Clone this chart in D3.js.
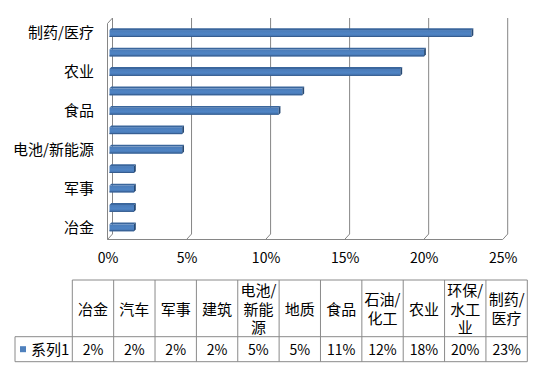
<!DOCTYPE html>
<html lang="zh">
<head>
<meta charset="utf-8">
<title>3D bar + table</title>
<script src="https://d3js.org/d3.v7.min.js"></script>
<style>
  body { margin: 0; background: #fff; }
  text { font-family: "Noto Sans CJK SC", "Noto Sans", sans-serif; fill: #000; }
</style>
</head>
<body>
<script>
// data, bottom to top as in the table
var categories = ["冶金", "汽车", "军事", "建筑", "电池/新能源", "地质", "食品", "石油/化工", "农业", "环保/水工业", "制药/医疗"];
var values = [0.0155, 0.0155, 0.0155, 0.0155, 0.046, 0.046, 0.107, 0.122, 0.184, 0.199, 0.229];
var tickValues = [0, 0.05, 0.10, 0.15, 0.20, 0.25];
var seriesName = "系列1";

var width = 543, height = 375;
var svg = d3.select("body").append("svg")
    .attr("width", width).attr("height", height);

// 3d depth offset, back wall -> front edge
var dx = -5, dy = 5.5;
var wallTop = 18, wallBottom = 234;

var xBack = d3.scaleLinear().domain([0, 0.25]).range([112.5, 507.7]);
var xFront = xBack.copy().range([112.5 + dx, 507.7 + dx]);
var xBar = xBack.copy().range([112.5 + dx * 0.6, 507.7 + dx * 0.6]);

var y = d3.scaleBand().domain(categories.slice().reverse())
    .range([22.8, 236.7]).paddingInner(0.55).paddingOuter(0.28);

var grid = svg.append("g").attr("stroke", "#868686").attr("fill", "none");
tickValues.forEach(function(v) {
  grid.append("path")
    .attr("d", "M" + xBack(v) + "," + wallTop + "V" + wallBottom +
               "L" + xFront(v) + "," + (wallBottom + dy));
});
// left wall front edge + floor edge
grid.append("path")
  .attr("d", "M" + xBack(0) + "," + wallTop + "L" + xFront(0) + "," + (wallTop + dy) +
             "V" + (wallBottom + dy) + "H" + xFront(0.25));

// bars
var defs = svg.append("defs");
var grad = defs.append("linearGradient").attr("id", "barFace")
    .attr("x1", 0).attr("y1", 0).attr("x2", 0).attr("y2", 1);
grad.append("stop").attr("offset", "0%").attr("stop-color", "#4a7bb8");
grad.append("stop").attr("offset", "55%").attr("stop-color", "#4f84c4");
grad.append("stop").attr("offset", "100%").attr("stop-color", "#4372ad");

var t = 1.8;
var bars = svg.append("g").selectAll("g").data(categories).join("g");
bars.append("path") // top face
  .attr("fill", "#3a669c")
  .attr("d", function(c, i) {
    var y0 = y(c), x0 = xBar(0), x1 = xBar(values[i]);
    return "M" + x0 + "," + (y0 + t) + "L" + x1 + "," + (y0 + t) +
           "L" + (x1 + t) + "," + y0 + "L" + (x0 + t) + "," + y0 + "Z";
  });
bars.append("rect") // front face
  .attr("x", xBar(0))
  .attr("y", function(c) { return y(c) + t; })
  .attr("width", function(c, i) { return xBar(values[i]) - xBar(0); })
  .attr("height", y.bandwidth() - t)
  .attr("fill", "url(#barFace)");
bars.append("path") // bottom edge
  .attr("stroke", "#365d8f").attr("fill", "none")
  .attr("d", function(c, i) {
    var yb = y(c) + y.bandwidth() - 0.5;
    return "M" + xBar(0) + "," + yb + "H" + xBar(values[i]);
  });
bars.append("path") // end cap
  .attr("fill", "#274a75")
  .attr("d", function(c, i) {
    var y0 = y(c), x1 = xBar(values[i]), h = y.bandwidth();
    return "M" + x1 + "," + (y0 + t) + "L" + (x1 + t) + "," + y0 +
           "L" + (x1 + t) + "," + (y0 + h - t) + "L" + x1 + "," + (y0 + h) + "Z";
  });

// category axis, every second label
var yAxis = d3.axisLeft(y)
    .tickValues(categories.filter(function(c, i) { return i % 2 === 0; }))
    .tickSize(0).tickPadding(0);
svg.append("g").attr("transform", "translate(94,1)").call(yAxis)
  .call(function(g) { g.select(".domain").remove(); })
  .selectAll("text").style("font-size", "15px")
  .style("font-family", '"Noto Sans CJK SC", sans-serif');

// value axis under the floor
var xAxis = d3.axisBottom(xFront).tickValues(tickValues)
    .tickFormat(d3.format(".0%")).tickSize(0).tickPadding(0);
svg.append("g").attr("transform", "translate(0,253)").call(xAxis)
  .call(function(g) { g.select(".domain").remove(); })
  .selectAll("text").style("font-size", "14px")
  .style("font-family", '"Noto Sans CJK SC", sans-serif');

// data table
var col = d3.scaleBand().domain(categories).range([72.3, 527.3]);
var tTop = 280, tMid = 336.7, tBot = 361.7, tLeft = 15;
var table = svg.append("g");
var lines = table.append("g").attr("stroke", "#8a8a8a").attr("fill", "none");
lines.append("path").attr("d", "M" + col.range()[0] + "," + tTop + "H" + col.range()[1]);
lines.append("path").attr("d", "M" + tLeft + "," + tMid + "H" + col.range()[1]);
lines.append("path").attr("d", "M" + tLeft + "," + tBot + "H" + col.range()[1]);
lines.append("path").attr("d", "M" + tLeft + "," + tMid + "V" + tBot);
categories.forEach(function(c) {
  lines.append("path").attr("d", "M" + col(c) + "," + tTop + "V" + tBot);
});
lines.append("path").attr("d", "M" + col.range()[1] + "," + tTop + "V" + tBot);

// header cells, wrapped to the column width
var lineH = 18.5, maxW = 37;
categories.forEach(function(c) {
  var probe = table.append("text").style("font-size", "15px");
  var rows = [], cur = "";
  Array.from(c).forEach(function(ch) {
    probe.text(cur + ch);
    if (cur && probe.node().getComputedTextLength() > maxW) { rows.push(cur); cur = ch; }
    else cur += ch;
  });
  rows.push(cur);
  probe.remove();
  var cy = (tTop + tMid) / 2 + 1;
  var txt = table.append("text").style("font-size", "15px")
    .attr("text-anchor", "middle");
  rows.forEach(function(r, k) {
    txt.append("tspan")
      .attr("x", col(c) + col.bandwidth() / 2)
      .attr("y", cy + (k - (rows.length - 1) / 2) * lineH)
      .attr("dy", "0.35em")
      .text(r);
  });
});

// value row
var rowY = (tMid + tBot) / 2 + 0.5;
table.append("rect").attr("x", 20).attr("y", rowY - 3.5)
  .attr("width", 6).attr("height", 6).attr("fill", "#4f81bd");
table.append("text").attr("x", 31).attr("y", rowY).attr("dy", "0.35em")
  .style("font-size", "15px").text(seriesName);
table.selectAll(".val").data(categories).join("text")
  .attr("class", "val")
  .attr("x", function(c) { return col(c) + col.bandwidth() / 2; })
  .attr("y", rowY).attr("dy", "0.35em")
  .attr("text-anchor", "middle").style("font-size", "14px")
  .text(function(c, i) { return d3.format(".0%")(values[i]); });
</script>
</body>
</html>
